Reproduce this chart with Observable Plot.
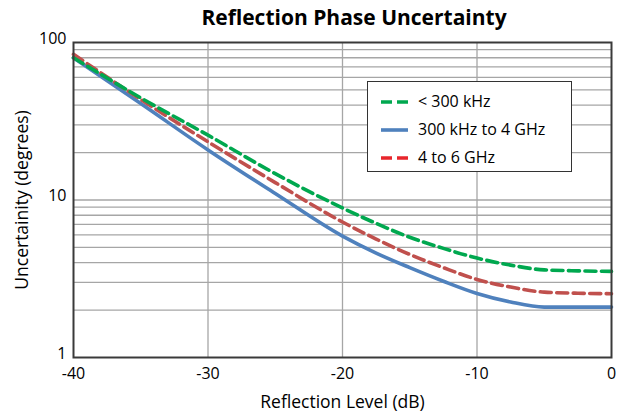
<!DOCTYPE html>
<html>
<head>
<meta charset="utf-8">
<script src="https://cdn.jsdelivr.net/npm/d3@7"></script>
<script src="https://cdn.jsdelivr.net/npm/@observablehq/plot@0.6"></script>
<style>
  body { margin: 0; background: #fff; font-family: "Open Sans", sans-serif; }
  #wrap { position: relative; width: 626px; height: 419px; overflow: hidden; }
  #title { position: absolute; left: 0; top: 0; height: 34px; line-height: 34px; font-size: 21px; font-weight: bold;
           text-align: center; padding-left: 82px; width: 544px; color: #000; white-space: nowrap; z-index: 2; }
  #legend { position: absolute; left: 367px; top: 81px; width: 203px; height: 89px;
            border: 1.5px solid #333; background: #fff; }
  .row { position: absolute; left: 0; height: 22px; width: 200px; }
  .row svg { position: absolute; left: 13px; top: 9px; }
  .row span { position: absolute; left: 50px; top: 0; font-size: 16px; line-height: 22px; color: #000; white-space: nowrap; }
</style>
</head>
<body>
<div id="wrap">
  <div id="chart"></div>
  <div id="title">Reflection Phase Uncertainty</div>
  <div id="legend"></div>
</div>
<script>
// Reflection level (dB)
const levels = [-40, -35, -30, -25, -20, -17.5, -15, -12.5, -10, -7.5, -5, -2.5, 0];
// Uncertainty (degrees) per series
const below300k = [80.0, 44.5, 25.8, 14.7, 8.9, 7.1, 5.8, 4.93, 4.28, 3.86, 3.6, 3.55, 3.52];
const to4GHz    = [80.0, 41.0, 20.8, 11.0, 5.9, 4.6, 3.72, 3.05, 2.55, 2.25, 2.09, 2.09, 2.09];
const to6GHz    = [84.1, 43.5, 23.4, 12.9, 7.25, 5.65, 4.51, 3.72, 3.13, 2.8, 2.6, 2.56, 2.54];

const seriesNames = ["< 300 kHz", "300 kHz to 4 GHz", "4 to 6 GHz"];
const seriesValues = [below300k, to4GHz, to6GHz];
const seriesColors = ["#00A84F", "#4F81BD", "#C0504D"];
const seriesDash = ["11,5.5", null, "11,5.5"];
const legendSwatch = ["#00A84F", "#4F81BD", "#E8262C"];

const xTicks = [-40, -30, -20, -10, 0];
const yTicks = [1, 10, 100];
const xGrid = [-30, -20, -10];
const yGrid = [2, 3, 4, 5, 6, 7, 8, 9, 10, 20, 30, 40, 50, 60, 70, 80, 90];

const rows = seriesNames.flatMap((name, s) =>
  levels.map((x, i) => ({series: name, x, y: seriesValues[s][i]})));

const drawOrder = [1, 2, 0];
const lineMarks = drawOrder.map(s => Plot.line(rows.filter(d => d.series === seriesNames[s]), {
  x: "x", y: "y", stroke: seriesColors[s], strokeWidth: 3.6,
  strokeDasharray: seriesDash[s] || undefined, curve: "monotone-x"
}));

const chart = Plot.plot({
  width: 626,
  height: 419,
  marginTop: 42,
  marginBottom: 62,
  marginLeft: 73,
  marginRight: 15,
  style: {fontFamily: "Open Sans, sans-serif", fontSize: "17px", color: "#000", background: "#fff", overflow: "visible"},
  x: {domain: [-40, 0]},
  y: {type: "log", domain: [1, 100]},
  marks: [
    Plot.ruleY(yGrid, {stroke: "#a6a6a6", strokeWidth: 1.3}),
    Plot.ruleX(xGrid, {stroke: "#a6a6a6", strokeWidth: 1.3}),
    ...lineMarks,
    Plot.frame({stroke: "#3a3a3a", strokeWidth: 2}),
    Plot.axisX(xTicks, {tickSize: 0, tickPadding: 10, tickFormat: d => String(d), label: null, fontSize: 16}),
    Plot.axisY(yTicks, {tickSize: 0, tickPadding: 7, dy: -4, tickFormat: d => String(d), label: null, fontSize: 16}),
    Plot.text(["Reflection Level (dB)"], {frameAnchor: "bottom", dy: 45, text: d => d, fontSize: 17.5, textAnchor: "middle", lineAnchor: "middle", fill: "#000"}),
    Plot.text(["Uncertainity (degrees)"], {frameAnchor: "left", dx: -51, rotate: -90, text: d => d, fontSize: 17.5, textAnchor: "middle", lineAnchor: "middle", fill: "#000"})
  ]
});
document.getElementById("chart").appendChild(chart);

const legend = document.getElementById("legend");
seriesNames.forEach((name, i) => {
  const row = document.createElement("div");
  row.className = "row";
  row.style.top = (7.5 + i * 28.3) + "px";
  const dash = seriesDash[i] ? `stroke-dasharray="11,5"` : "";
  row.innerHTML = `<svg width="28" height="6"><line x1="0" y1="3" x2="27" y2="3" stroke="${legendSwatch[i]}" stroke-width="3.6" ${dash}/></svg><span>${name.replace("<", "&lt;")}</span>`;
  legend.appendChild(row);
});
</script>
</body>
</html>
